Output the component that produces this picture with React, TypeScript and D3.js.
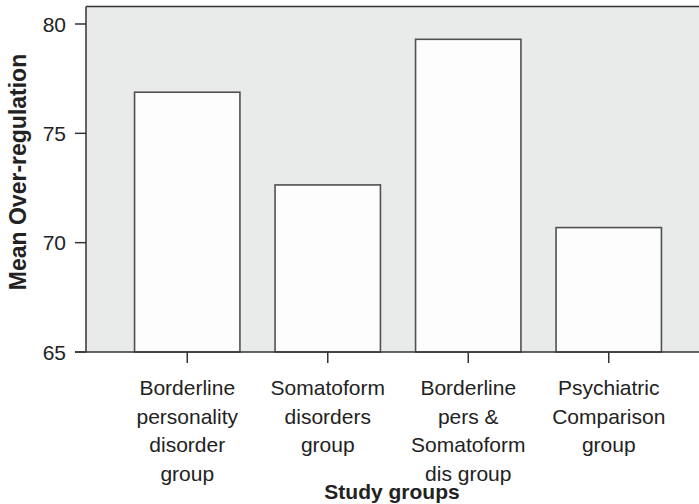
import React from 'react';
import * as d3 from 'd3';

// categories (each label is split into lines as in the figure)
const groups: string[][] = [
  ['Borderline', 'personality', 'disorder', 'group'],
  ['Somatoform', 'disorders', 'group'],
  ['Borderline', 'pers &', 'Somatoform', 'dis group'],
  ['Psychiatric', 'Comparison', 'group'],
];
const means: number[] = [76.88, 72.64, 79.3, 70.69];
const yTicks: number[] = [65, 70, 75, 80];

const W = 699;
const H = 504;
const FONT = '"Liberation Sans", Arial, sans-serif';

const App: React.FC = () => {
  const left = 86;
  const top = 6.5;
  const bottom = 352;
  const right = W;

  const keys = groups.map((g) => g.join(' '));
  const x = d3.scaleBand<string>().domain(keys).range([117, 679]).paddingInner(0.25).paddingOuter(0.125);
  const y = d3.scaleLinear().domain([65, 80.8]).range([bottom, top]);

  return (
    <svg
      width={W}
      height={H}
      style={{ position: 'absolute', left: 0, top: 0, background: '#fff' }}
      fontFamily={FONT}
    >
      <rect x={left} y={top} width={right - left} height={bottom - top} fill="#e9eaea" />
      <line x1={left} x2={right} y1={top} y2={top} stroke="#333" strokeWidth={1.5} />

      {means.map((v, i) => (
        <rect
          key={keys[i]}
          x={x(keys[i])}
          y={y(v)}
          width={x.bandwidth()}
          height={bottom - y(v)}
          fill="#fdfdfd"
          stroke="#505050"
          strokeWidth={1.6}
        />
      ))}

      {/* y axis */}
      <line x1={left} x2={left} y1={top} y2={bottom} stroke="#333" strokeWidth={1.5} />
      {yTicks.map((t) => (
        <g key={t} transform={`translate(0,${y(t)})`}>
          <line x1={75} x2={left} stroke="#333" strokeWidth={1.5} />
          <text x={66} dy="0.36em" textAnchor="end" fontSize={21} fill="#222">
            {t}
          </text>
        </g>
      ))}

      {/* x axis */}
      <line x1={75} x2={right} y1={bottom} y2={bottom} stroke="#333" strokeWidth={1.5} />
      {groups.map((lines, i) => {
        const cx = (x(keys[i]) as number) + x.bandwidth() / 2;
        return (
          <g key={keys[i]}>
            <line x1={cx} x2={cx} y1={bottom} y2={bottom + 11} stroke="#333" strokeWidth={1.5} />
            <text textAnchor="middle" fontSize={21} fill="#222">
              {lines.map((l, j) => (
                <tspan key={j} x={cx} y={395 + j * 28.7}>
                  {l}
                </tspan>
              ))}
            </text>
          </g>
        );
      })}

      <text x={392} y={499} textAnchor="middle" fontSize={21} fontWeight="bold" fill="#222">
        Study groups
      </text>
      <text
        transform={`translate(26,172) rotate(-90)`}
        textAnchor="middle"
        fontSize={23}
        fontWeight="bold"
        fill="#222"
      >
        Mean Over-regulation
      </text>
    </svg>
  );
};

export default App;
